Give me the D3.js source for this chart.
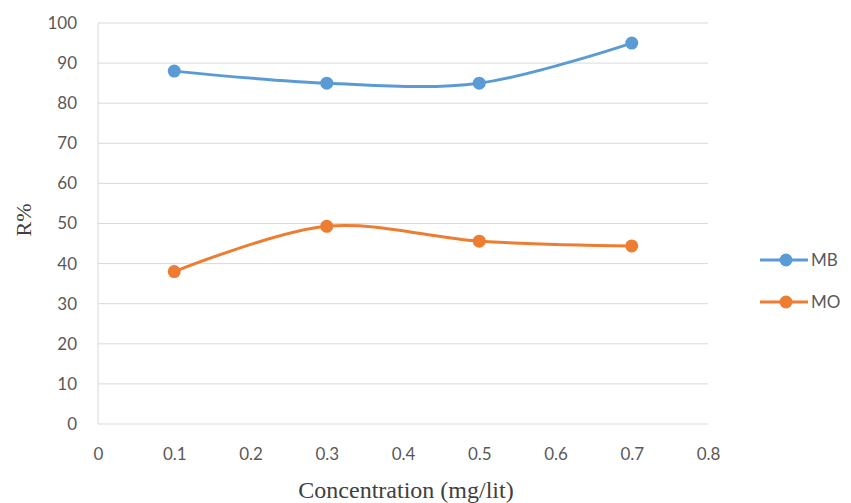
<!DOCTYPE html>
<html>
<head>
<meta charset="utf-8">
<script src="https://d3js.org/d3.v7.min.js"></script>
<style>
  body { margin: 0; background: #fff; }
  .tick text { fill: #595959; font-family: Lato, "Open Sans", sans-serif; font-size: 17px; }
  .title { font-family: "Liberation Serif", "DejaVu Serif", serif; font-size: 24px; fill: #404040; }
</style>
</head>
<body>
<svg></svg>
<script>
// data
var concentration = [0.1, 0.3, 0.5, 0.7];
var mb = [88, 85, 85, 95];
var mo = [38, 49.3, 45.6, 44.4];
var seriesNames = ['MB', 'MO'];
var seriesColors = ['#5B9BD5', '#ED7D31'];
var xTicks = [0, 0.1, 0.2, 0.3, 0.4, 0.5, 0.6, 0.7, 0.8];
var yTicks = [0, 10, 20, 30, 40, 50, 60, 70, 80, 90, 100];

var W = 851, H = 503;
var margin = {top: 23, left: 98, right: 143, bottom: 79};
var width = W - margin.left - margin.right,
    height = H - margin.top - margin.bottom;

var svg = d3.select('svg').attr('width', W).attr('height', H);
var g = svg.append('g').attr('transform', 'translate(' + margin.left + ',' + margin.top + ')');

var x = d3.scaleLinear().domain([0, 0.8]).range([0, width]);
var y = d3.scaleLinear().domain([0, 100]).range([height, 0]);

// gridlines
g.selectAll('.grid').data(yTicks).enter().append('line')
  .attr('x1', 0).attr('x2', width)
  .attr('y1', function (d) { return y(d); }).attr('y2', function (d) { return y(d); })
  .attr('stroke', '#d9d9d9').attr('stroke-width', 1);
g.append('line').attr('x1', 0).attr('x2', 0).attr('y1', 0).attr('y2', height)
  .attr('stroke', '#d9d9d9');

// axes
var xAxis = g.append('g').attr('transform', 'translate(0,' + height + ')')
  .call(d3.axisBottom(x).tickValues(xTicks).tickSize(0).tickPadding(24).tickFormat(d3.format('')));
xAxis.select('.domain').remove();

var yAxis = g.append('g')
  .call(d3.axisLeft(y).tickValues(yTicks).tickSize(0).tickPadding(21));
yAxis.select('.domain').remove();

// titles
svg.append('text').attr('class', 'title')
  .attr('x', 406).attr('y', 498)
  .attr('text-anchor', 'middle').text('Concentration (mg/lit)');
svg.append('text').attr('class', 'title')
  .attr('transform', 'translate(31,220) rotate(-90)')
  .style('font-size', '22px')
  .attr('text-anchor', 'middle').text('R%');

// lines
var line = d3.line()
  .x(function (d) { return x(d[0]); })
  .y(function (d) { return y(d[1]); })
  .curve(d3.curveCatmullRom.alpha(0.5));

[mb, mo].forEach(function (vals, i) {
  var pts = concentration.map(function (c, j) { return [c, vals[j]]; });
  g.append('path').datum(pts)
    .attr('d', line).attr('fill', 'none')
    .attr('stroke', seriesColors[i]).attr('stroke-width', 3);
  g.selectAll('.dot' + i).data(pts).enter().append('circle')
    .attr('cx', function (d) { return x(d[0]); })
    .attr('cy', function (d) { return y(d[1]); })
    .attr('r', 6.5).attr('fill', seriesColors[i]);
});

// legend
var legend = svg.selectAll('.legend').data(seriesNames).enter().append('g')
  .attr('transform', function (d, i) { return 'translate(760,' + (260 + i * 42) + ')'; });
legend.append('line').attr('x1', 0).attr('x2', 48)
  .attr('stroke', function (d, i) { return seriesColors[i]; }).attr('stroke-width', 3);
legend.append('circle').attr('cx', 26).attr('r', 6.5)
  .attr('fill', function (d, i) { return seriesColors[i]; });
legend.append('text').attr('x', 51).attr('dy', '0.35em')
  .style('font-family', 'Lato, "Open Sans", sans-serif').style('font-size', '17px')
  .attr('fill', '#595959').text(function (d) { return d; });
</script>
</body>
</html>
